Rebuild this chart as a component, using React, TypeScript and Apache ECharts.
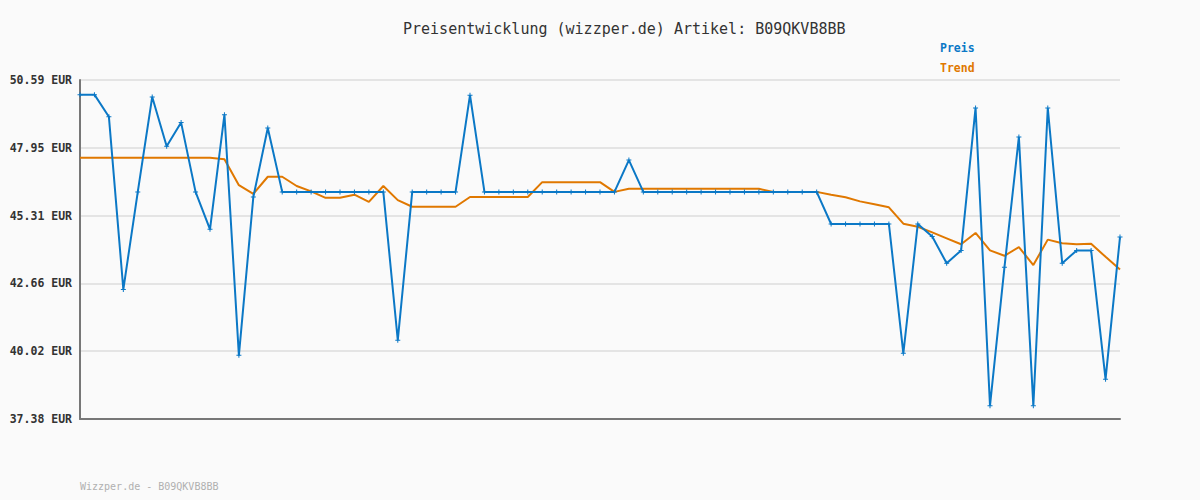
import React, { useEffect, useRef } from "react";
import * as echarts from "echarts";

const TITLE = "Preisentwicklung (wizzper.de) Artikel: B09QKVB8BB";
const FOOTER = "Wizzper.de - B09QKVB8BB";
const SERIES_NAMES = ["Preis", "Trend"];
const Y_TICKS = [37.38, 40.02, 42.66, 45.31, 47.95, 50.59];

const preis = [
  50.02, 50.02, 49.16, 42.43, 46.23, 49.93, 48.01, 48.93, 46.23, 44.77,
  49.24, 39.86, 46.03, 48.72, 46.23, 46.23, 46.23, 46.23, 46.23, 46.23,
  46.23, 46.23, 40.45, 46.23, 46.23, 46.23, 46.23, 50.0, 46.23, 46.23,
  46.23, 46.23, 46.23, 46.23, 46.23, 46.23, 46.23, 46.23, 47.47, 46.23,
  46.23, 46.23, 46.23, 46.23, 46.23, 46.23, 46.23, 46.23, 46.23, 46.23,
  46.23, 46.23, 44.98, 44.98, 44.98, 44.98, 44.98, 39.94, 44.98, 44.49,
  43.45, 43.95, 49.5, 37.9, 43.29, 48.37, 37.9, 49.5, 43.45, 43.95,
  43.95, 38.93, 44.47,
];

const trend = [
  47.56, 47.56, 47.56, 47.56, 47.56, 47.56, 47.56, 47.56, 47.56, 47.56,
  47.5, 46.49, 46.15, 46.82, 46.82, 46.46, 46.25, 46.0, 46.0, 46.12,
  45.84, 46.46, 45.91, 45.65, 45.65, 45.65, 45.65, 46.03, 46.03, 46.03,
  46.03, 46.03, 46.61, 46.61, 46.61, 46.61, 46.61, 46.23, 46.35, 46.35,
  46.35, 46.35, 46.35, 46.35, 46.35, 46.35, 46.35, 46.35, 46.23, 46.23,
  46.23, 46.23, 46.12, 46.02, 45.86, 45.75, 45.63, 44.99, 44.87, 44.65,
  44.42, 44.19, 44.63, 43.95, 43.74, 44.08, 43.38, 44.37, 44.23, 44.19,
  44.21, 43.7, 43.21,
];

const categories = preis.map((_, i) => String(i + 1));

const BLUE = "#0b78c6";
const ORANGE = "#e07800";
const MONO = "'DejaVu Sans Mono', 'Liberation Mono', monospace";
const PLUS = "path://M2,0H3V2H5V3H3V5H2V3H0V2H2Z";

export default function App() {
  const ref = useRef<HTMLDivElement>(null);

  useEffect(() => {
    document.body.style.margin = "0";
    const chart = echarts.init(ref.current!, null, { renderer: "svg" });
    const yMin = Y_TICKS[0];
    const yMax = Y_TICKS[Y_TICKS.length - 1];
    const interval = (yMax - yMin) / (Y_TICKS.length - 1);
    chart.setOption({
      animation: false,
      backgroundColor: "#fafafa",
      title: {
        text: TITLE,
        left: 398,
        top: 16,
        textStyle: {
          fontFamily: MONO,
          fontSize: 15,
          fontWeight: "normal",
          color: "#333",
        },
      },
      legend: {
        orient: "vertical",
        left: 930,
        top: 37,
        itemWidth: 0,
        itemHeight: 0,
        itemGap: 8,
        icon: "circle",
        textStyle: { fontFamily: MONO, fontSize: 11.5, fontWeight: "bold" },
        data: [
          { name: SERIES_NAMES[0], textStyle: { color: BLUE } },
          { name: SERIES_NAMES[1], textStyle: { color: ORANGE } },
        ],
      },
      grid: { left: 80, right: 80, top: 80, bottom: 81, containLabel: false },
      xAxis: {
        type: "category",
        data: categories,
        boundaryGap: false,
        axisLine: { show: true, lineStyle: { color: "#777", width: 2 } },
        axisTick: { show: false },
        axisLabel: { show: false },
        splitLine: { show: false },
      },
      yAxis: {
        type: "value",
        min: yMin,
        max: yMax,
        interval: interval,
        axisLine: { show: true, lineStyle: { color: "#777", width: 2 } },
        axisTick: { show: false },
        axisLabel: {
          margin: 8,
          fontFamily: MONO,
          fontSize: 11.5,
          fontWeight: "bold",
          color: "#333",
          formatter: (v: number) => v.toFixed(2) + " EUR",
        },
        splitLine: { show: true, lineStyle: { color: "#e4e4e4", width: 2 } },
      },
      graphic: [
        {
          type: "text",
          left: 80,
          top: 481,
          style: {
            text: FOOTER,
            fontFamily: MONO,
            fontSize: 10,
            fill: "#b0b0b0",
          },
        },
      ],
      series: [
        {
          name: SERIES_NAMES[1],
          type: "line",
          data: trend,
          color: ORANGE,
          showSymbol: false,
          symbol: "none",
          lineStyle: { width: 2, color: ORANGE },
          z: 2,
        },
        {
          name: SERIES_NAMES[0],
          type: "line",
          data: preis,
          color: BLUE,
          symbol: PLUS,
          symbolSize: 5,
          showAllSymbol: true,
          itemStyle: { color: BLUE },
          lineStyle: { width: 2, color: BLUE },
          z: 3,
        },
      ],
    });
    return () => chart.dispose();
  }, []);

  return (
    <div
      ref={ref}
      style={{ position: "fixed", left: 0, top: 0, width: 1200, height: 500 }}
    />
  );
}
